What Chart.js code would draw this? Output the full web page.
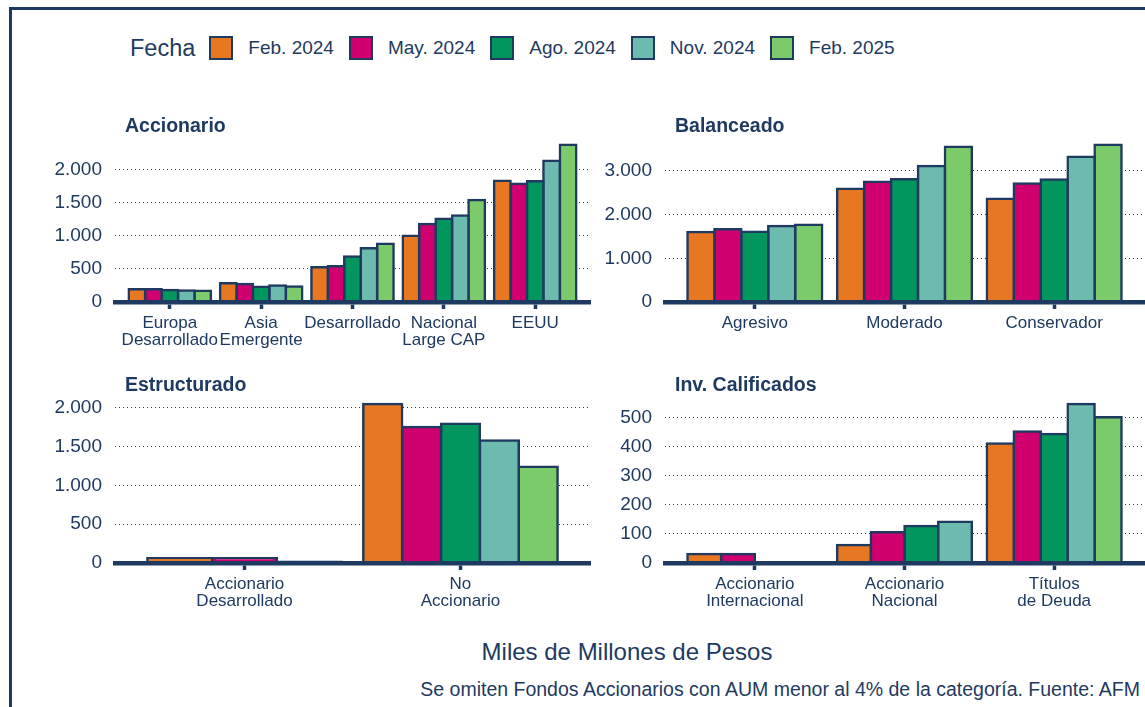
<!DOCTYPE html>
<html>
<head>
<meta charset="utf-8">
<script src="https://cdn.jsdelivr.net/npm/chart.js@4.4.1/dist/chart.umd.min.js"></script>
<style>
html, body { margin: 0; padding: 0; background: #fff; overflow: hidden; }
#wrap { position: relative; width: 1145px; height: 707px; font-family: 'Liberation Sans', Arial, sans-serif; color: #1f3a60; }
#marco { position: absolute; left: 9px; top: 7px; width: 1300px; height: 900px; border-left: 3px solid #1f3a60; border-top: 3px solid #1f3a60; }
canvas { position: absolute; }
#leyenda { position: absolute; left: 130px; top: 33px; height: 30px; display: flex; align-items: center; font-size: 19px; }
#leyenda .titulo { font-size: 23.5px; margin-right: 14px; }
#leyenda .caja { width: 20px; height: 20px; border: 2px solid #1f3a60; margin-right: 15px; }
#leyenda .txt { margin-right: 15px; }
#unidad { position: absolute; left: 0; width: 1254px; top: 638px; text-align: center; font-size: 24px; }
#nota { position: absolute; right: 5px; top: 678px; font-size: 19.5px; }
</style>
</head>
<body>
<div id="wrap">
  <div id="marco"></div>
  <div id="leyenda"><span class="titulo">Fecha</span></div>
  <canvas id="c1" width="580" height="260" style="left:20px;top:100px"></canvas>
  <canvas id="c2" width="545" height="260" style="left:600px;top:100px"></canvas>
  <canvas id="c3" width="580" height="260" style="left:20px;top:360px"></canvas>
  <canvas id="c4" width="545" height="260" style="left:600px;top:360px"></canvas>
  <div id="unidad">Miles de Millones de Pesos</div>
  <div id="nota">Se omiten Fondos Accionarios con AUM menor al 4% de la categoría. Fuente: AFM</div>
</div>
<script>
const fechas = ['Feb. 2024', 'May. 2024', 'Ago. 2024', 'Nov. 2024', 'Feb. 2025'];

// Accionario
const catAccionario = [['Europa', 'Desarrollado'], ['Asia', 'Emergente'], 'Desarrollado', ['Nacional', 'Large CAP'], 'EEUU'];
const valAccionario = [
    [194, 284, 522, 1000, 1826],
    [192, 273, 537, 1174, 1781],
    [180, 229, 686, 1254, 1821],
    [172, 249, 811, 1303, 2129],
    [170, 234, 876, 1537, 2368]
];

// Balanceado
const catBalanceado = ['Agresivo', 'Moderado', 'Conservador'];
const valBalanceado = [
    [1602, 2593, 2366],
    [1663, 2751, 2713],
    [1610, 2812, 2804],
    [1738, 3114, 3326],
    [1769, 3553, 3598]
];

// Estructurado
const catEstructurado = [['Accionario', 'Desarrollado'], ['No', 'Accionario']];
const valEstructurado = [
    [62, 2052],
    [60, 1754],
    [15, 1797],
    [null, 1582],
    [null, 1241]
];

// Inv. Calificados
const catCalificados = [['Accionario', 'Internacional'], ['Accionario', 'Nacional'], ['Títulos', 'de Deuda']];
const valCalificados = [
    [31, 62, 411],
    [31, 106, 452],
    [0, 127, 444],
    [0, 142, 547],
    [null, null, 501]
];

const colores = ['#e87722', '#d1006f', '#00965e', '#6cbbae', '#7bcb6a'];
const azul = '#1f3a60';
const fuente = "'Liberation Sans', Arial, sans-serif";

function miles(v) {
    return String(v).replace(/\B(?=(\d{3})+(?!\d))/g, '.');
}

// leyenda
const leyenda = document.getElementById('leyenda');
fechas.forEach(function (f, i) {
    const caja = document.createElement('span');
    caja.className = 'caja';
    caja.style.background = colores[i];
    const txt = document.createElement('span');
    txt.className = 'txt';
    txt.textContent = f;
    leyenda.appendChild(caja);
    leyenda.appendChild(txt);
});

const tituloPanel = {
    id: 'tituloPanel',
    afterDraw: function (chart, args, opts) {
        const ctx = chart.ctx;
        ctx.save();
        ctx.font = 'bold 19.5px ' + fuente;
        ctx.fillStyle = azul;
        ctx.textBaseline = 'middle';
        ctx.fillText(opts.text, chart.chartArea.left + 10, chart.chartArea.top - 10);
        ctx.restore();
    }
};

function panel(id, titulo, categorias, valores, paso, area) {
    const n = categorias.length;
    const maximo = Math.max.apply(null, valores.flat().filter(v => v !== null));
    return new Chart(document.getElementById(id), {
        type: 'bar',
        data: {
            labels: categorias,
            datasets: fechas.map(function (f, i) {
                return {
                    label: f,
                    data: valores[i],
                    backgroundColor: colores[i],
                    borderColor: azul,
                    borderWidth: 2.5,
                    borderSkipped: false,
                    inflateAmount: 1.25,
                    categoryPercentage: 0.9,
                    barPercentage: 1.0
                };
            })
        },
        options: {
            responsive: false,
            animation: false,
            devicePixelRatio: 1,
            skipNull: true,
            layout: { padding: { top: area.T - area.cy, right: area.cx + area.cw - area.R, left: 0, bottom: 0 } },
            plugins: {
                legend: { display: false },
                tooltip: { enabled: false },
                tituloPanel: { text: titulo }
            },
            scales: {
                x: {
                    // ejes discretos con 0.6 categorías de margen a cada lado
                    afterBuildTicks: function (s) {
                        s._startValue = -0.6;
                        s._valueRange = n + 0.2;
                    },
                    afterFit: function (s) { s.height = area.cy + area.ch - area.B; },
                    grid: {
                        offset: false,
                        drawOnChartArea: false,
                        drawTicks: true,
                        tickLength: 7,
                        tickWidth: 3.5,
                        tickColor: azul
                    },
                    border: { display: true, color: azul, width: 4.5, z: 1 },
                    ticks: {
                        color: azul,
                        padding: 6,
                        autoSkip: false,
                        maxRotation: 0,
                        font: { family: fuente, size: 17, lineHeight: 1.0 }
                    }
                },
                y: {
                    min: 0,
                    max: maximo * 1.05,
                    afterFit: function (s) { s.width = area.L - area.cx; },
                    afterBuildTicks: function (s) {
                        const t = [];
                        for (let v = 0; v <= s.max; v += paso) t.push({ value: v });
                        s.ticks = t;
                    },
                    grid: {
                        drawTicks: false,
                        color: c => (c.tick && c.tick.value === 0) ? 'rgba(0,0,0,0)' : azul,
                        lineWidth: 1
                    },
                    border: { display: false, dash: [1, 3] },
                    ticks: {
                        padding: 13,
                        color: azul,
                        callback: v => miles(v),
                        font: { family: fuente, size: 19 }
                    }
                }
            }
        },
        plugins: [tituloPanel]
    });
}

panel('c1', 'Accionario', catAccionario, valAccionario, 500,
    { cx: 20, cy: 100, cw: 580, ch: 260, L: 115, T: 137, R: 590, B: 302 });
panel('c2', 'Balanceado', catBalanceado, valBalanceado, 1000,
    { cx: 600, cy: 100, cw: 545, ch: 260, L: 665, T: 137, R: 1144, B: 302 });
panel('c3', 'Estructurado', catEstructurado, valEstructurado, 500,
    { cx: 20, cy: 360, cw: 580, ch: 260, L: 115, T: 396, R: 590, B: 563 });
panel('c4', 'Inv. Calificados', catCalificados, valCalificados, 100,
    { cx: 600, cy: 360, cw: 545, ch: 260, L: 665, T: 396, R: 1144, B: 563 });
</script>
</body>
</html>
